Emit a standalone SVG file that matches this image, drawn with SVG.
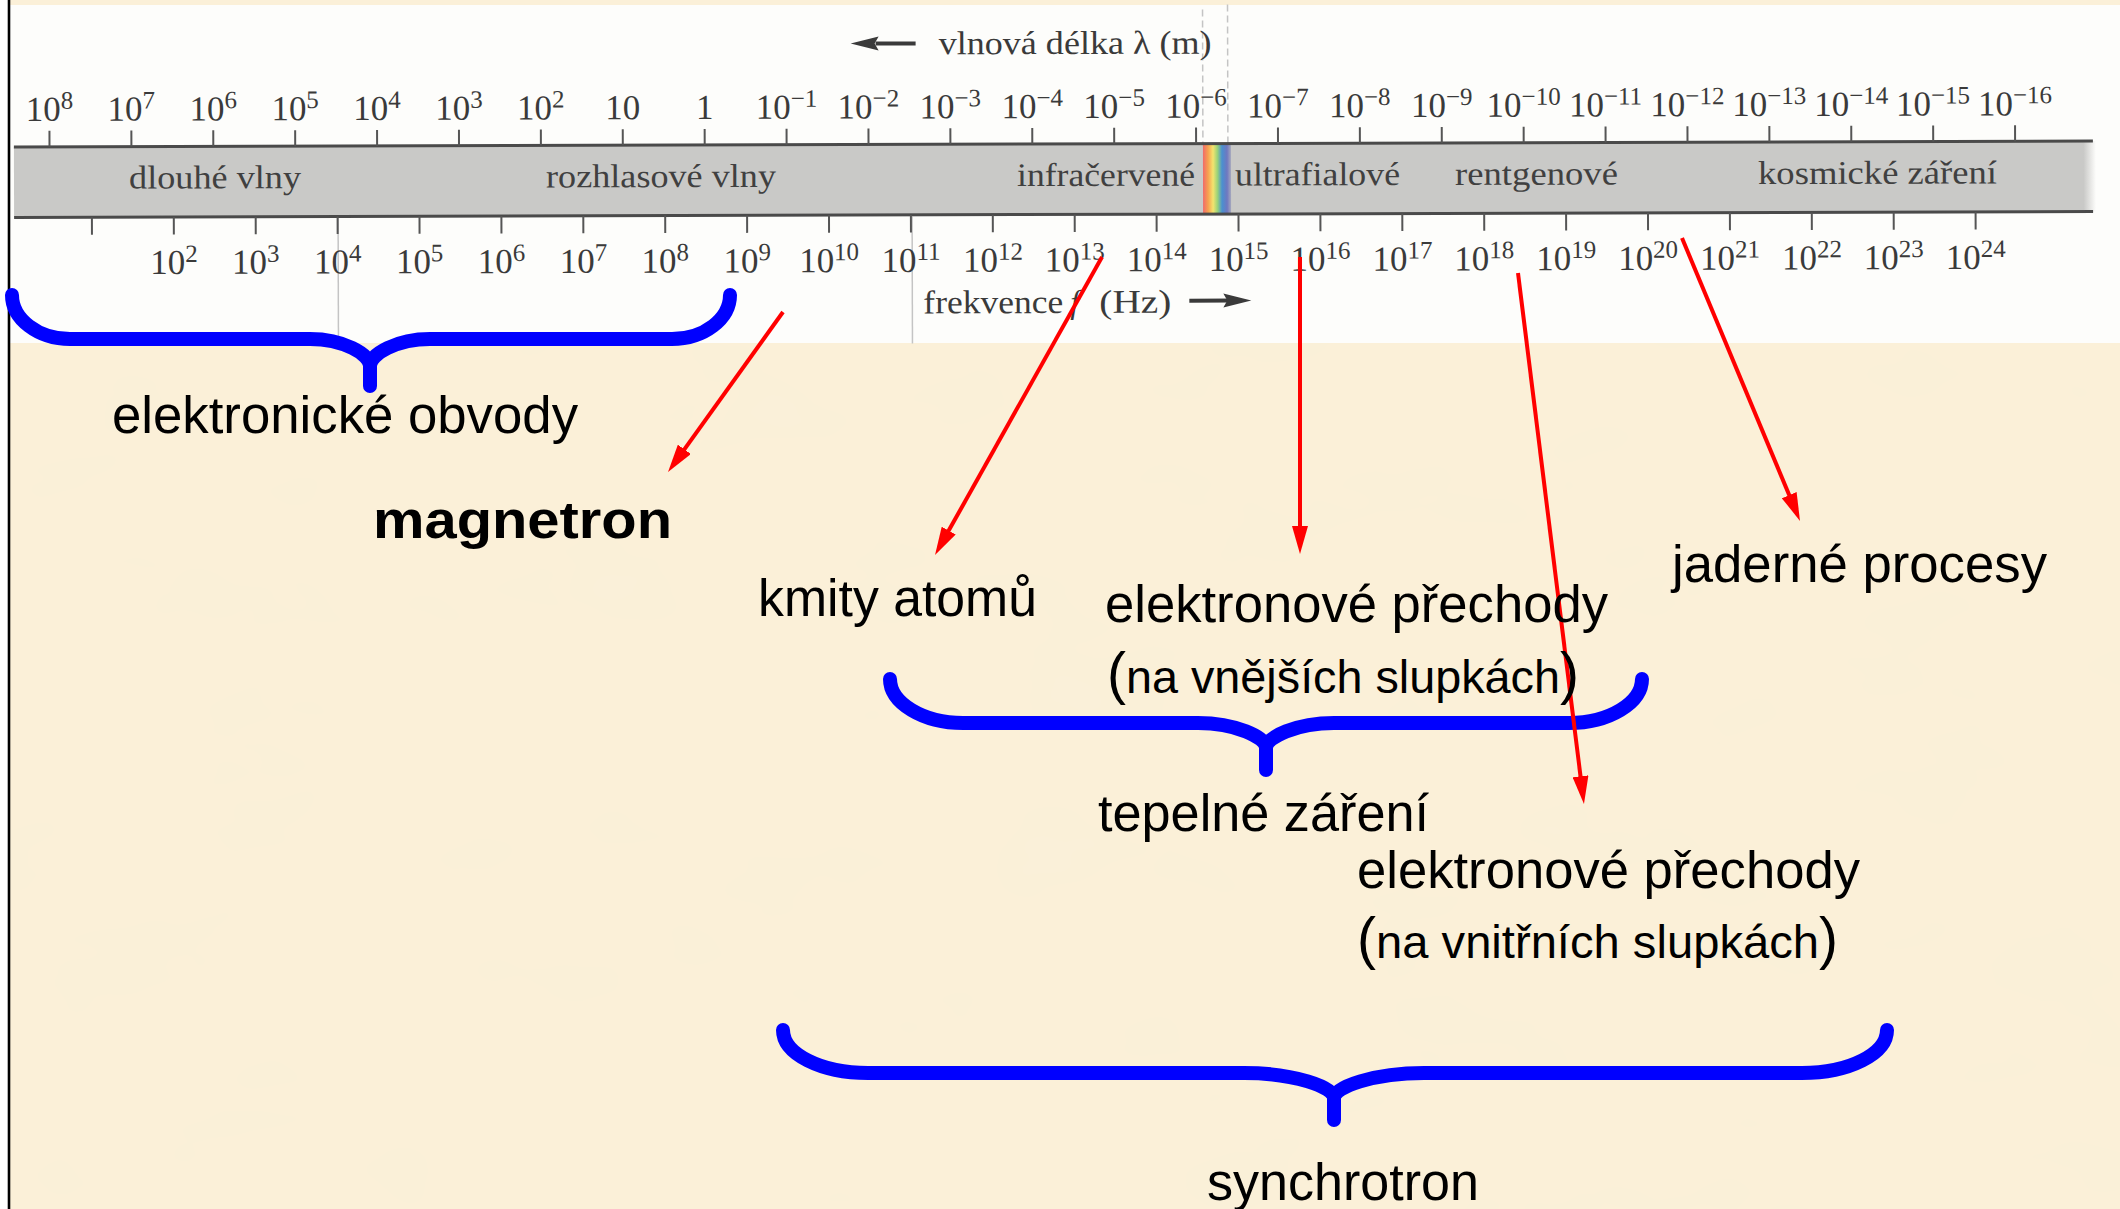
<svg xmlns="http://www.w3.org/2000/svg" width="2120" height="1209" viewBox="0 0 2120 1209">
<defs>
<style>
.bg{fill:#fbf0d8}
.tick{stroke:#555;stroke-width:2}
.edge{stroke:#4a4a4a;stroke-width:3}
.sc{font-family:"Liberation Serif","Times New Roman",serif;font-size:35px;fill:#3a3a3a;text-anchor:middle}
.sup{font-size:25px}
.band{font-family:"Liberation Serif","Times New Roman",serif;font-size:33px;fill:#404040}
.ttl{font-family:"Liberation Serif","Times New Roman",serif;font-size:33px;fill:#3a3a3a}
.lbl{font-family:"Liberation Sans",Arial,sans-serif;font-size:51px;fill:#000}
.par{font-family:"Liberation Sans",Arial,sans-serif;font-size:47px;fill:#000}
.pp{font-family:"Liberation Sans",Arial,sans-serif;font-size:57px;fill:#000}
.brace{fill:none;stroke:#0000ff;stroke-width:14;stroke-linecap:round;stroke-linejoin:round}
.arr{fill:none;stroke:#ff0000;stroke-width:4;marker-end:url(#ah)}
.ghost{stroke:#c4c4c4;stroke-width:1.5;fill:none}
</style>
<marker id="ah" viewBox="0 0 28 16" markerWidth="28" markerHeight="16" refX="8" refY="8" orient="auto" markerUnits="userSpaceOnUse">
<path d="M0,0 L28,8 L0,16 z" fill="#ff0000"/>
</marker>
<linearGradient id="rainbow" x1="1203" y1="0" x2="1231" y2="0" gradientUnits="userSpaceOnUse">
<stop offset="0" stop-color="#f06a6a"/>
<stop offset="0.18" stop-color="#f7a050"/>
<stop offset="0.36" stop-color="#f3e46e"/>
<stop offset="0.52" stop-color="#98d27a"/>
<stop offset="0.68" stop-color="#4a90d0"/>
<stop offset="0.86" stop-color="#6f78c0"/>
<stop offset="1" stop-color="#a6a8bc"/>
</linearGradient>
<linearGradient id="bandfade" x1="14" y1="0" x2="2096" y2="0" gradientUnits="userSpaceOnUse">
<stop offset="0" stop-color="#c9c9c7"/>
<stop offset="0.994" stop-color="#c9c9c7"/>
<stop offset="1" stop-color="#c9c9c7" stop-opacity="0"/>
</linearGradient>
<filter id="mottle" x="0" y="0" width="1" height="1">
<feTurbulence type="fractalNoise" baseFrequency="0.006 0.011" numOctaves="3" seed="7" result="n"/>
<feColorMatrix in="n" type="matrix" values="0 0 0 0 0.94  0 0 0 0 0.87  0 0 0 0 0.70  0 0 0 0.6 -0.22"/>
</filter>
</defs>

<rect class="bg" x="0" y="0" width="2120" height="1209"/>
<rect x="10" y="343" width="2110" height="866" fill="#fbf0d8" filter="url(#mottle)"/>
<rect x="0" y="0" width="8" height="1209" fill="#ffffff"/>
<rect x="9" y="5" width="2111" height="338" fill="#fdfdfb"/>
<line x1="9" y1="0" x2="9" y2="1209" stroke="#000" stroke-width="2.6"/>

<g id="spectrum" transform="rotate(-0.16 1060 180)">
<line class="ghost" x1="338" y1="216" x2="338" y2="343"/>
<line class="ghost" x1="912" y1="216" x2="912" y2="343"/>
<line class="ghost" x1="1203" y1="10" x2="1203" y2="144" stroke-dasharray="7 4"/>
<line class="ghost" x1="1228" y1="5" x2="1228" y2="144" stroke-dasharray="7 4"/>
<rect x="14" y="144" width="2082" height="70.5" fill="url(#bandfade)"/>
<rect x="1203" y="144" width="28" height="70.5" fill="url(#rainbow)"/>
<line class="edge" x1="14" y1="144" x2="2093" y2="144"/>
<line class="edge" x1="14" y1="214.5" x2="2093" y2="214.5"/>

<g id="wl-ticks">
<path class="tick" d="M49.6,128V144M131.5,128V144M213.4,128V144M295.3,128V144M377.2,128V144M459.1,128V144M541,128V144M622.9,128V144M704.8,128V144M786.7,128V144M868.6,128V144M950.5,128V144M1032.4,128V144M1114.3,128V144M1196.2,128V144M1278.1,128V144M1360,128V144M1441.9,128V144M1523.8,128V144M1605.7,128V144M1687.6,128V144M1769.5,128V144M1851.4,128V144M1933.3,128V144M2015.2,128V144"/>
</g>
<g id="fq-ticks">
<path class="tick" d="M91.8,214.5V232M173.7,214.5V232M255.6,214.5V232M337.5,214.5V232M419.4,214.5V232M501.3,214.5V232M583.2,214.5V232M665.1,214.5V232M747,214.5V232M828.9,214.5V232M910.8,214.5V232M992.7,214.5V232M1074.6,214.5V232M1156.5,214.5V232M1238.4,214.5V232M1320.3,214.5V232M1402.2,214.5V232M1484.1,214.5V232M1566,214.5V232M1647.9,214.5V232M1729.8,214.5V232M1811.7,214.5V232M1893.6,214.5V232M1975.5,214.5V232"/>
</g>

<g id="wl-labels" class="sc">
<text x="49.6" y="118">10<tspan class="sup" dy="-12">8</tspan></text>
<text x="131.5" y="118">10<tspan class="sup" dy="-12">7</tspan></text>
<text x="213.4" y="118">10<tspan class="sup" dy="-12">6</tspan></text>
<text x="295.3" y="118">10<tspan class="sup" dy="-12">5</tspan></text>
<text x="377.2" y="118">10<tspan class="sup" dy="-12">4</tspan></text>
<text x="459.1" y="118">10<tspan class="sup" dy="-12">3</tspan></text>
<text x="541" y="118">10<tspan class="sup" dy="-12">2</tspan></text>
<text x="622.9" y="118">10</text>
<text x="704.8" y="118">1</text>
<text x="786.7" y="118">10<tspan class="sup" dy="-12">−1</tspan></text>
<text x="868.6" y="118">10<tspan class="sup" dy="-12">−2</tspan></text>
<text x="950.5" y="118">10<tspan class="sup" dy="-12">−3</tspan></text>
<text x="1032.4" y="118">10<tspan class="sup" dy="-12">−4</tspan></text>
<text x="1114.3" y="118">10<tspan class="sup" dy="-12">−5</tspan></text>
<text x="1196.2" y="118">10<tspan class="sup" dy="-12">−6</tspan></text>
<text x="1278.1" y="118">10<tspan class="sup" dy="-12">−7</tspan></text>
<text x="1360" y="118">10<tspan class="sup" dy="-12">−8</tspan></text>
<text x="1441.9" y="118">10<tspan class="sup" dy="-12">−9</tspan></text>
<text x="1523.8" y="118">10<tspan class="sup" dy="-12">−10</tspan></text>
<text x="1605.7" y="118">10<tspan class="sup" dy="-12">−11</tspan></text>
<text x="1687.6" y="118">10<tspan class="sup" dy="-12">−12</tspan></text>
<text x="1769.5" y="118">10<tspan class="sup" dy="-12">−13</tspan></text>
<text x="1851.4" y="118">10<tspan class="sup" dy="-12">−14</tspan></text>
<text x="1933.3" y="118">10<tspan class="sup" dy="-12">−15</tspan></text>
<text x="2015.2" y="118">10<tspan class="sup" dy="-12">−16</tspan></text>
</g>

<g id="fq-labels" class="sc">
<text x="173.7" y="271.5">10<tspan class="sup" dy="-12">2</tspan></text>
<text x="255.6" y="271.5">10<tspan class="sup" dy="-12">3</tspan></text>
<text x="337.5" y="271.5">10<tspan class="sup" dy="-12">4</tspan></text>
<text x="419.4" y="271.5">10<tspan class="sup" dy="-12">5</tspan></text>
<text x="501.3" y="271.5">10<tspan class="sup" dy="-12">6</tspan></text>
<text x="583.2" y="271.5">10<tspan class="sup" dy="-12">7</tspan></text>
<text x="665.1" y="271.5">10<tspan class="sup" dy="-12">8</tspan></text>
<text x="747" y="271.5">10<tspan class="sup" dy="-12">9</tspan></text>
<text x="828.9" y="271.5">10<tspan class="sup" dy="-12">10</tspan></text>
<text x="910.8" y="271.5">10<tspan class="sup" dy="-12">11</tspan></text>
<text x="992.7" y="271.5">10<tspan class="sup" dy="-12">12</tspan></text>
<text x="1074.6" y="271.5">10<tspan class="sup" dy="-12">13</tspan></text>
<text x="1156.5" y="271.5">10<tspan class="sup" dy="-12">14</tspan></text>
<text x="1238.4" y="271.5">10<tspan class="sup" dy="-12">15</tspan></text>
<text x="1320.3" y="271.5">10<tspan class="sup" dy="-12">16</tspan></text>
<text x="1402.2" y="271.5">10<tspan class="sup" dy="-12">17</tspan></text>
<text x="1484.1" y="271.5">10<tspan class="sup" dy="-12">18</tspan></text>
<text x="1566" y="271.5">10<tspan class="sup" dy="-12">19</tspan></text>
<text x="1647.9" y="271.5">10<tspan class="sup" dy="-12">20</tspan></text>
<text x="1729.8" y="271.5">10<tspan class="sup" dy="-12">21</tspan></text>
<text x="1811.7" y="271.5">10<tspan class="sup" dy="-12">22</tspan></text>
<text x="1893.6" y="271.5">10<tspan class="sup" dy="-12">23</tspan></text>
<text x="1975.5" y="271.5">10<tspan class="sup" dy="-12">24</tspan></text>
</g>

<g id="band-labels" class="band">
<text x="129" y="186" textLength="172" lengthAdjust="spacingAndGlyphs">dlouhé vlny</text>
<text x="546" y="186" textLength="230" lengthAdjust="spacingAndGlyphs">rozhlasové vlny</text>
<text x="1017" y="186" textLength="178" lengthAdjust="spacingAndGlyphs">infračervené</text>
<text x="1235" y="186" textLength="165" lengthAdjust="spacingAndGlyphs">ultrafialové</text>
<text x="1455" y="186" textLength="163" lengthAdjust="spacingAndGlyphs">rentgenové</text>
<text x="1758" y="186" textLength="239" lengthAdjust="spacingAndGlyphs">kosmické záření</text>
</g>

<g id="wavelength-title">
<line x1="876" y1="43" x2="916" y2="43" stroke="#3a3a3a" stroke-width="4"/>
<path d="M851,43 L879,36 L875,43 L879,50 z" fill="#3a3a3a"/>
<text class="ttl" x="939" y="54" textLength="273" lengthAdjust="spacingAndGlyphs">vlnová délka λ (m)</text>
</g>
<g id="frequency-title">
<text class="ttl" x="923" y="313" textLength="140" lengthAdjust="spacingAndGlyphs">frekvence</text>
<text class="ttl" x="1070" y="313" font-style="italic">f</text>
<text class="ttl" x="1099" y="313" textLength="72" lengthAdjust="spacingAndGlyphs">(Hz)</text>
<line x1="1189" y1="301" x2="1230" y2="301" stroke="#3a3a3a" stroke-width="4"/>
<path d="M1251,301 L1223,294 L1227,301 L1223,308 z" fill="#3a3a3a"/>
</g>
</g>

<g id="brace-elektronicke-obvody">
<path class="brace" d="M12,295 C12,319 38,339 70,339 L310,339 C343,339 370,354 370,366 L370,386 L370,366 C370,354 397,339 430,339 L672,339 C704,339 730,319 730,295"/>
</g>
<g id="brace-tepelne-zareni">
<path class="brace" d="M890,679 C890,703 923,723 963,723 L1198,723 C1235,723 1266,737 1266,748 L1266,770 L1266,748 C1266,737 1297,723 1334,723 L1569,723 C1609,723 1642,703 1642,679"/>
</g>
<g id="brace-synchrotron">
<path class="brace" d="M783,1030 C783,1054 821,1073 868,1073 L1244,1073 C1294,1073 1334,1087 1334,1098 L1334,1120 L1334,1098 C1334,1087 1374,1073 1424,1073 L1802,1073 C1849,1073 1887,1054 1887,1030"/>
</g>

<g id="connectors">
<line class="arr" x1="783" y1="312" x2="679.7" y2="455.8"/>
<line class="arr" x1="1102" y1="257" x2="944.8" y2="537.6"/>
<line class="arr" x1="1300" y1="257" x2="1300" y2="534"/>
<line class="arr" x1="1518" y1="273" x2="1581.5" y2="784.2"/>
<line class="arr" x1="1682" y1="238" x2="1792.3" y2="502.5"/>
</g>

<g id="node-elektronicke-obvody"><text class="lbl" x="112" y="433" textLength="466" lengthAdjust="spacingAndGlyphs">elektronické obvody</text></g>
<g id="node-magnetron"><text class="lbl" x="373" y="538" font-weight="bold" font-size="56" textLength="299" lengthAdjust="spacingAndGlyphs">magnetron</text></g>
<g id="node-kmity-atomu"><text class="lbl" x="758" y="616" textLength="279" lengthAdjust="spacingAndGlyphs">kmity atomů</text></g>
<g id="node-elektronove-vnejsi">
<text class="lbl" x="1105" y="622" textLength="503" lengthAdjust="spacingAndGlyphs">elektronové přechody</text>
<text class="pp" x="1107" y="693">(</text>
<text class="par" x="1126" y="693" textLength="434" lengthAdjust="spacingAndGlyphs">na vnějších slupkách</text>
<text class="pp" x="1560" y="693">)</text>
</g>
<g id="node-tepelne-zareni"><text class="lbl" x="1098" y="831" textLength="331" lengthAdjust="spacingAndGlyphs">tepelné záření</text></g>
<g id="node-elektronove-vnitrni">
<text class="lbl" x="1357" y="888" textLength="503" lengthAdjust="spacingAndGlyphs">elektronové přechody</text>
<text class="pp" x="1357" y="958">(</text>
<text class="par" x="1376" y="958" textLength="443" lengthAdjust="spacingAndGlyphs">na vnitřních slupkách</text>
<text class="pp" x="1819" y="958">)</text>
</g>
<g id="node-jaderne-procesy"><text class="lbl" x="1672" y="582" textLength="375" lengthAdjust="spacingAndGlyphs">jaderné procesy</text></g>
<g id="node-synchrotron"><text class="lbl" x="1207" y="1200" textLength="272" lengthAdjust="spacingAndGlyphs">synchrotron</text></g>
</svg>
